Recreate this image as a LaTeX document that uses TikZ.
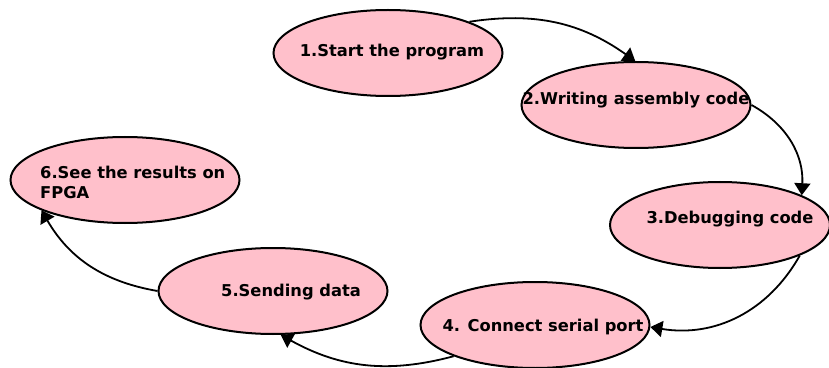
\documentclass[tikz,border=0pt]{standalone}
\usepackage{fontspec}
\setsansfont{DejaVu Sans}
\usepackage{tikz}
\usetikzlibrary{shapes.geometric, arrows.meta}
\definecolor{stepfill}{RGB}{255,192,203}

\begin{document}
\begin{tikzpicture}[x=1pt,y=1pt,
		stepbox/.style={ellipse, draw=black, line width=2pt, fill=stepfill, inner sep=0pt, minimum width=229pt, minimum height=86pt},
		steptext/.style={font=\sffamily\bfseries\fontsize{16.3}{20}\selectfont, inner sep=0pt, align=left},
		flow/.style={line width=1.8pt, -{Triangle[length=12pt,width=16pt]}}]
			\useasboundingbox (0,0) rectangle (829,367);
			
			% Ellipsen
			\node[stepbox] (s1) at (388,314) {};
			\node[stepbox] (s2) at (636,262) {};
			\node[stepbox, minimum width=220pt] (s3) at (720,142) {};
			\node[stepbox] (s4) at (535,42) {};
			\node[stepbox] (s5) at (273,76) {};
			\node[stepbox] (s6) at (125,187) {};
			
			% Beschriftung
			\node[steptext] (t1) at (392,315) {1.Start the program};
			\node[steptext] (t2) at (636,267) {2.Writing assembly code};
			\node[steptext] (t3) at (730,148) {3.Debugging code};
			\node[steptext] (t4) at (543,40) {4. Connect serial port};
			\node[steptext] (t5) at (291,75) {5.Sending data};
			\node[steptext, anchor=west] (t6) at (40,185) {6.See the results on\\FPGA};
			
			% Pfeile
			\draw[flow] (s1.21) to[bend left=22] (s2.91);
			\draw[flow] (s2.0) to[bend left=32] (s3.20);
			\draw[flow] (s3.-21) to[bend left=35] (s4.-1);
			\draw[flow] (s4.201) to[bend left=22] (s5.-80);
			\draw[flow] (s5.180) to[bend left=25] (s6.200);
		\end{tikzpicture}
\end{document}
